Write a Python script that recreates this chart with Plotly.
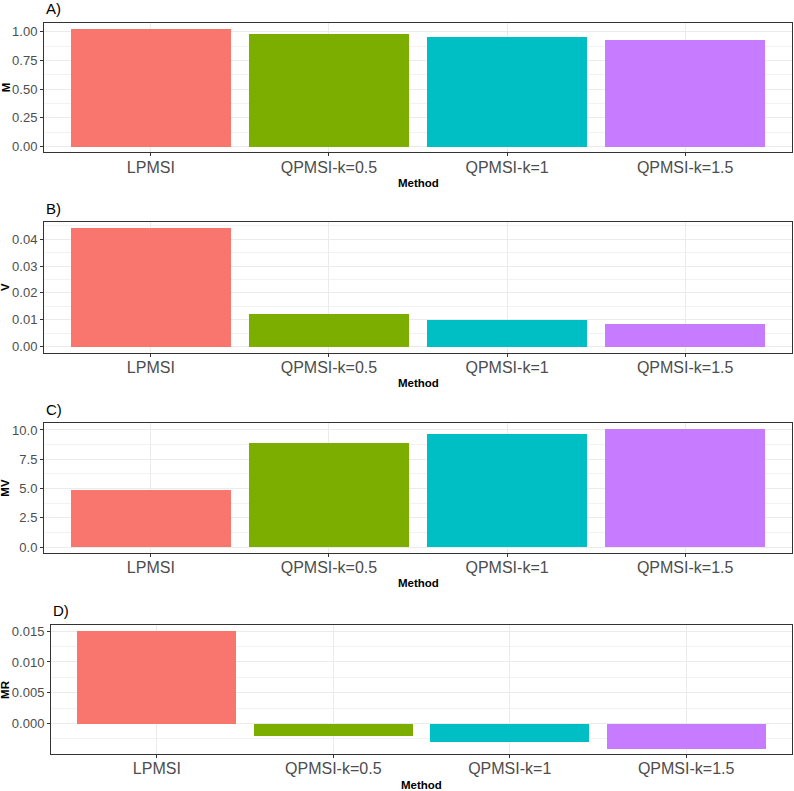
import plotly.graph_objects as go

methods = ["LPMSI", "QPMSI-k=0.5", "QPMSI-k=1", "QPMSI-k=1.5"]
M_vals = [1.026, 0.980, 0.953, 0.931]
V_vals = [0.0441, 0.0120, 0.0097, 0.0084]
MV_vals = [4.88, 8.85, 9.64, 10.06]
MR_vals = [0.0151, -0.0019, -0.0030, -0.0040]
colors = ["#F8766D", "#7CAE00", "#00BFC4", "#C77CFF"]

panels = [
    ("A)", "M", M_vals, [0, 0.25, 0.5, 0.75, 1.0], ["0.00", "0.25", "0.50", "0.75", "1.00"], 0.125),
    ("B)", "V", V_vals, [0, 0.01, 0.02, 0.03, 0.04], ["0.00", "0.01", "0.02", "0.03", "0.04"], 0.005),
    ("C)", "MV", MV_vals, [0, 2.5, 5, 7.5, 10], ["0.0", "2.5", "5.0", "7.5", "10.0"], 1.25),
    ("D)", "MR", MR_vals, [0, 0.005, 0.01, 0.015], ["0.000", "0.005", "0.010", "0.015"], 0.0025),
]

W, H = 794, 791
# pixel geometry of panels: (left, right, top, bottom)
geom = [
    (44, 792, 22, 152),
    (44, 792, 222, 353),
    (44, 792, 424, 554),
    (51, 792, 626, 756),
]

fig = go.Figure()
annotations = []
for i, ((lab, ytitle, vals, tv, tt, minor_dt), (l, r, t, b)) in enumerate(zip(panels, geom)):
    n = i + 1
    xa = "x" if n == 1 else f"x{n}"
    ya = "y" if n == 1 else f"y{n}"
    fig.add_trace(go.Bar(
        x=methods, y=vals, marker=dict(color=colors, line=dict(width=0)),
        width=0.9, xaxis=xa, yaxis=ya, showlegend=False,
    ))
    lo = min(0, min(vals)); hi = max(0, max(vals)); pad = 0.05 * (hi - lo)
    xkey = "xaxis" if n == 1 else f"xaxis{n}"
    ykey = "yaxis" if n == 1 else f"yaxis{n}"
    fig.update_layout(**{
        xkey: dict(
            domain=[l / W, r / W], anchor=ya, type="category", range=[-0.6, 3.6],
            showgrid=True, gridcolor="#EBEBEB", gridwidth=1,
            showline=True, mirror=True, linecolor="#333333", linewidth=1,
            ticks="outside", ticklen=3, tickcolor="#333333",
            ticklabelstandoff=-3,
            tickfont=dict(family="Liberation Sans, Arial", size=16, color="#4D4D4D"),
            zeroline=False, fixedrange=True,
        ),
        ykey: dict(
            domain=[1 - b / H, 1 - t / H], anchor=xa, range=[lo - pad, hi + pad],
            tickmode="array", tickvals=tv, ticktext=tt,
            showgrid=True, gridcolor="#EBEBEB", gridwidth=1,
            minor=dict(dtick=minor_dt, tick0=0, showgrid=True, gridcolor="#F2F2F2", gridwidth=0.7, ticks=""),
            showline=True, mirror=True, linecolor="#333333", linewidth=1,
            ticks="outside", ticklen=3, tickcolor="#333333",
            tickfont=dict(family="Liberation Sans, Arial", size=13, color="#4D4D4D"),
            zeroline=False,
        ),
    })
    # panel label
    annotations.append(dict(text=lab, x=l / W, y=1 - (t - 14) / H, xref="paper", yref="paper",
                            xanchor="left", yanchor="middle", showarrow=False,
                            font=dict(family="Liberation Sans, Arial", size=15, color="black")))
    # x title
    annotations.append(dict(text="<b>Method</b>", x=(l + r) / 2 / W, y=1 - (b + 30.5) / H,
                            xref="paper", yref="paper", xanchor="center", yanchor="middle",
                            showarrow=False,
                            font=dict(family="Liberation Sans, Arial", size=11.5, color="black")))
    # y title
    annotations.append(dict(text=f"<b>{ytitle}</b>", x=5.5 / W, y=1 - (t + b) / 2 / H,
                            xref="paper", yref="paper", xanchor="center", yanchor="middle",
                            showarrow=False, textangle=-90,
                            font=dict(family="Liberation Sans, Arial", size=11.5, color="black")))

fig.update_layout(
    width=W, height=H, margin=dict(l=0, r=0, t=0, b=0),
    paper_bgcolor="white", plot_bgcolor="white",
    annotations=annotations, bargap=0,
)
fig.write_html("out.html")
